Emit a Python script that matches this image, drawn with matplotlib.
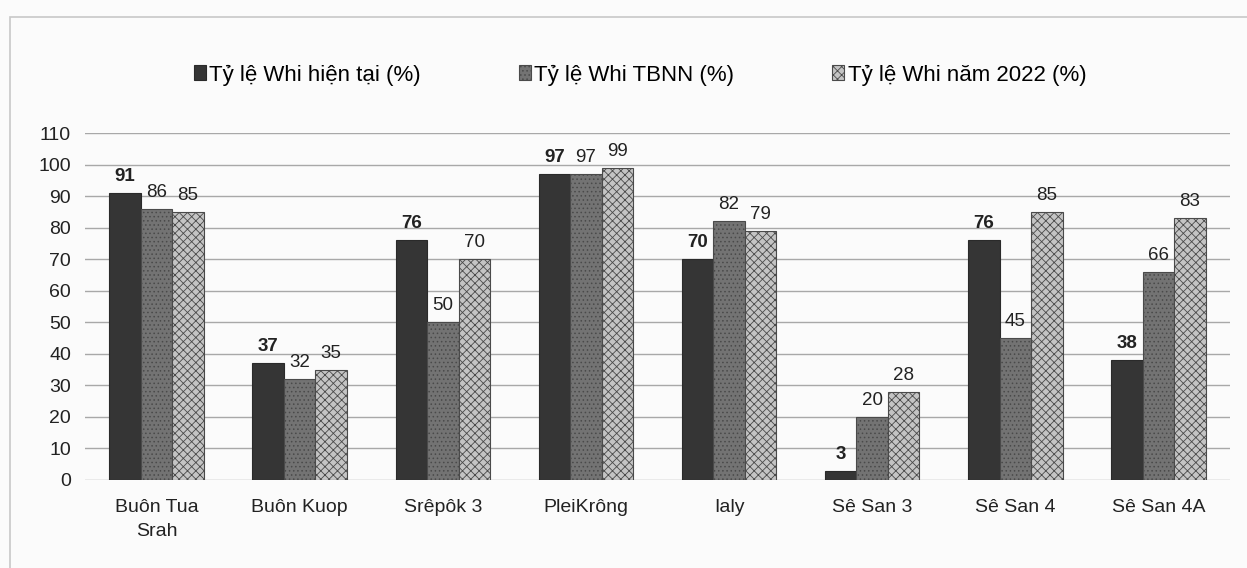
import matplotlib
matplotlib.use("Agg")
import matplotlib.pyplot as plt
import numpy as np
from matplotlib.patches import Rectangle

plt.rcParams['font.family'] = ['Liberation Sans', 'DejaVu Sans']
plt.rcParams['hatch.linewidth'] = 0.6

categories = ["Buôn Tua\nSrah", "Buôn Kuop", "Srêpôk 3", "PleiKrông", "Ialy",
              "Sê San 3", "Sê San 4", "Sê San 4A"]
series_names = ["Tỷ lệ Whi hiện tại (%)", "Tỷ lệ Whi TBNN (%)", "Tỷ lệ Whi năm 2022 (%)"]
hien_tai = [91, 37, 76, 97, 70, 3, 76, 38]
tbnn = [86, 32, 50, 97, 82, 20, 45, 66]
nam_2022 = [85, 35, 70, 99, 79, 28, 85, 83]
yticks = list(range(0, 111, 10))

fig = plt.figure(figsize=(12.47, 5.68), dpi=100)
fig.patch.set_facecolor('#fbfbfb')
# chart frame
fig.patches.append(Rectangle((10/1247, -0.01), 1.2, 1 - 17/568 + 0.01,
                             transform=fig.transFigure, fill=False,
                             edgecolor='#c8c8c8', linewidth=1.2))

ax = fig.add_axes([85/1247, 88/568, (1230-85)/1247, (480-133)/568*1.0])
ax.set_facecolor('none')
x = np.arange(len(categories))
w = 0.22
styles = [
    dict(color='#353535', hatch=None, edge='#2a2a2a', lab_bold=True),
    dict(color='#737373', hatch='....', edge='#4a4a4a', lab_bold=False),
    dict(color='#c4c4c4', hatch='xxxx', edge='#4a4a4a', lab_bold=False),
]
data = [hien_tai, tbnn, nam_2022]
handles = []
for i, (vals, st) in enumerate(zip(data, styles)):
    bars = ax.bar(x + (i - 1) * w, vals, width=w, color=st['color'],
                  edgecolor=st['edge'], hatch=st['hatch'], linewidth=0.8,
                  label=series_names[i], zorder=3)
    handles.append(bars)
    for xi, v in zip(x + (i - 1) * w, vals):
        ax.text(xi, v + 2.5, str(v), ha='center', va='bottom', fontsize=13.5,
                color='#222222', fontweight='bold' if st['lab_bold'] else 'normal')

ax.set_xlim(-0.5, 7.5)
ax.set_ylim(0, 110)
ax.set_yticks(yticks)
ax.set_xticks(x)
ax.set_xticklabels(categories, fontsize=14, color='#222222', linespacing=1.5)
ax.tick_params(axis='y', length=0, labelsize=14, colors='#222222', pad=10)
ax.tick_params(axis='x', length=0, pad=14)
ax.yaxis.grid(True, color='#a8a8a8', linewidth=1.0, zorder=0)
ax.set_axisbelow(True)
for s in ax.spines.values():
    s.set_visible(False)

fig.legend(handles=handles, labels=series_names, loc='center',
           bbox_to_anchor=(640/1247, 1 - 75/568), ncol=3, frameon=False,
           fontsize=16, handlelength=0.55, handleheight=0.65, handletextpad=0.15,
           columnspacing=4.4)

fig.savefig('out.png', dpi=100, facecolor=fig.get_facecolor())
